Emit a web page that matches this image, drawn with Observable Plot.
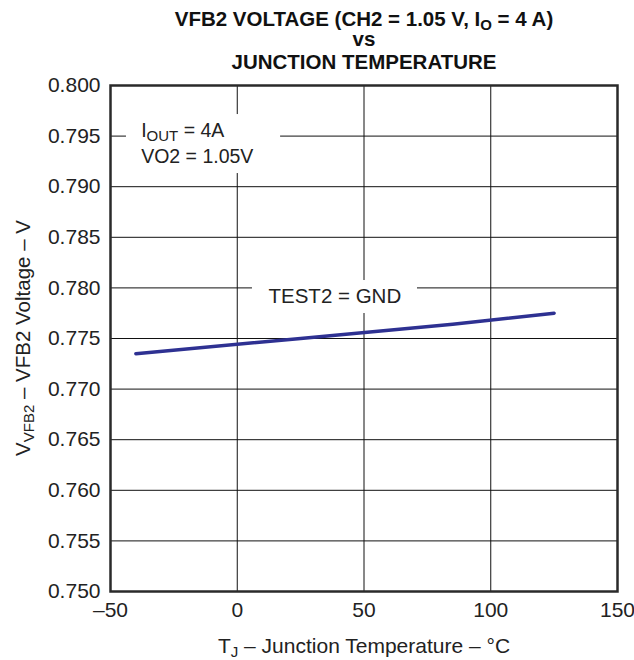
<!DOCTYPE html>
<html>
<head>
<meta charset="utf-8">
<script src="https://cdn.jsdelivr.net/npm/d3@7"></script>
<script src="https://cdn.jsdelivr.net/npm/@observablehq/plot@0.6"></script>
<style>
  html, body { margin: 0; padding: 0; background: #fff; overflow: hidden; }
  #chart { width: 634px; height: 660px; }
</style>
</head>
<body>
<div id="chart"></div>
<script>
// ---- data ----
const temps = [-40, 25, 85, 125];               // T_J (°C)
const vfb2  = [0.7735, 0.7750, 0.7764, 0.7775]; // V_VFB2 (V)
const xTicks = [-50, 0, 50, 100, 150];
const yTicks = [0.750, 0.755, 0.760, 0.765, 0.770, 0.775, 0.780, 0.785, 0.790, 0.795, 0.800];
const xGrid = [0, 50, 100];
const yGrid = [0.755, 0.760, 0.765, 0.770, 0.775, 0.780, 0.785, 0.790, 0.795];

// annotation text boxes (white backgrounds that interrupt the grid)
const noteBoxes = [
  {x1: -43.7, x2: 17.1, y1: 0.79130, y2: 0.79713},
  {x1: 6.0, x2: 71.1, y1: 0.77747, y2: 0.78073}
];
const leftNotes = [
  {x: -37.9, y: 0.79496, text: "IOUT = 4A"},
  {x: -37.9, y: 0.79232, text: "VO2 = 1.05V"}
];
const midNotes = [
  {x: 38.5, y: 0.77855, text: "TEST2 = GND"}
];

const data = temps.map((t, i) => ({t, v: vfb2[i]}));
const FONT = "'Liberation Sans', Arial, Helvetica, sans-serif";

const chart = Plot.plot({
  width: 634,
  height: 660,
  marginLeft: 110,
  marginRight: 17,
  marginTop: 85,
  marginBottom: 69,
  style: {fontFamily: FONT, fontSize: "21px", color: "#222", background: "#fff", overflow: "visible"},
  x: {domain: [-50, 150], ticks: xTicks, tickSize: 0, tickPadding: 11,
      tickFormat: d => d < 0 ? "\u2013" + Math.abs(d) : String(d), label: null},
  y: {domain: [0.75, 0.80], ticks: yTicks, tickSize: 0, tickPadding: 10,
      tickFormat: d3.format(".3f"), label: null},
  marks: [
    Plot.ruleX(xGrid, {stroke: "#111", strokeWidth: 1}),
    Plot.ruleY(yGrid, {stroke: "#111", strokeWidth: 1}),
    Plot.rect(noteBoxes, {x1: "x1", x2: "x2", y1: "y1", y2: "y2", fill: "#fff"}),
    Plot.text(leftNotes, {x: "x", y: "y", text: "text", textAnchor: "start",
      lineAnchor: "bottom", fontSize: 19.5, fill: "#222"}),
    Plot.text(midNotes, {x: "x", y: "y", text: "text", textAnchor: "middle",
      lineAnchor: "bottom", fontSize: 20.5, fill: "#222"}),
    Plot.line(data, {x: "t", y: "v", stroke: "#2e3192", strokeWidth: 3.5, strokeLinecap: "round"}),
    Plot.frame({stroke: "#2a2a2a", strokeWidth: 2.5})
  ]
});

document.getElementById("chart").appendChild(chart);
const svg = d3.select(chart);

// subscript in annotation text
svg.selectAll("text").each(function() {
  if (this.textContent === "IOUT = 4A") {
    this.innerHTML = 'I<tspan dy="4" font-size="15">OUT</tspan><tspan dy="-4"> = 4A</tspan>';
  }
});

// title
const title = svg.append("g")
  .attr("text-anchor", "middle")
  .attr("font-family", FONT)
  .attr("font-weight", "bold")
  .attr("font-size", 20.5)
  .attr("fill", "#111");
title.append("text").attr("x", 364).attr("y", 26)
  .html('VFB2 VOLTAGE (CH2 = 1.05 V, I<tspan dy="4" font-size="15">O</tspan><tspan dy="-4"> = 4 A)</tspan>');
title.append("text").attr("x", 364).attr("y", 46).text("vs");
title.append("text").attr("x", 364).attr("y", 69).text("JUNCTION TEMPERATURE");

// x axis label
svg.append("text")
  .attr("x", 364).attr("y", 653)
  .attr("text-anchor", "middle")
  .attr("font-family", FONT).attr("font-size", 21).attr("fill", "#222")
  .html('T<tspan dy="4" font-size="15">J</tspan><tspan dy="-4"> \u2013 Junction Temperature \u2013 \u00B0C</tspan>');

// y axis label
svg.append("text")
  .attr("transform", "translate(30,338) rotate(-90)")
  .attr("text-anchor", "middle")
  .attr("font-family", FONT).attr("font-size", 20.5).attr("fill", "#222")
  .html('V<tspan dy="4" font-size="15">VFB2</tspan><tspan dy="-4"> \u2013 VFB2 Voltage \u2013 V</tspan>');
</script>
</body>
</html>
